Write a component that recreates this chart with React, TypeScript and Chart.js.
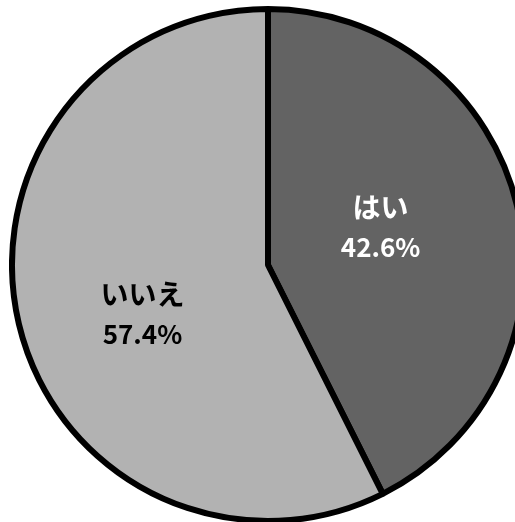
import React, { useEffect, useRef } from "react";
import { Chart, registerables } from "chart.js";

Chart.register(...registerables);

const categories = ["はい", "いいえ"];
const values = [42.6, 57.4];
const percentLabels = ["42.6%", "57.4%"];
const sliceColors = ["#636363", "#b2b2b2"];
const textColors = ["#ffffff", "#000000"];

const labelPlugin = {
  id: "pieLabels",
  afterDatasetsDraw(chart: any) {
    const ctx = chart.ctx;
    const meta = chart.getDatasetMeta(0);
    const offsets = [
      { dx: -12, dy: -8 },
      { dx: -1, dy: 20 },
    ];
    meta.data.forEach((arc: any, i: number) => {
      const { x, y, startAngle, endAngle, outerRadius } = arc.getProps(
        ["x", "y", "startAngle", "endAngle", "outerRadius"],
        true
      );
      const mid = (startAngle + endAngle) / 2;
      const r = outerRadius * 0.5;
      const cx = x + Math.cos(mid) * r + offsets[i].dx;
      const cy = y + Math.sin(mid) * r + offsets[i].dy;
      ctx.save();
      ctx.fillStyle = textColors[i];
      ctx.textAlign = "center";
      ctx.textBaseline = "middle";
      ctx.font = "bold 28px 'Noto Sans CJK JP'";
      ctx.fillText(categories[i], cx, cy - 20);
      ctx.font = "bold 26px 'Noto Sans CJK JP'";
      ctx.fillText(percentLabels[i], cx, cy + 20);
      ctx.restore();
    });
  },
};

export default function App() {
  const ref = useRef<HTMLCanvasElement>(null);
  useEffect(() => {
    if (!ref.current) return;
    const chart = new Chart(ref.current, {
      type: "pie",
      data: {
        labels: categories,
        datasets: [
          {
            data: values,
            backgroundColor: sliceColors,
            borderColor: "#000000",
            borderWidth: 6,
          },
        ],
      },
      options: {
        animation: false,
        responsive: false,
        events: [],
        plugins: {
          legend: { display: false },
          tooltip: { enabled: false },
        },
      },
      plugins: [labelPlugin],
    });
    return () => chart.destroy();
  }, []);
  return (
    <div style={{ position: "fixed", left: 0, top: 0, width: 515, height: 522, overflow: "hidden", background: "#fff" }}>
      <div style={{ position: "absolute", left: 9, top: 6, width: 518, height: 518 }}>
        <canvas ref={ref} width={518} height={518} style={{ width: 518, height: 518, display: "block" }} />
      </div>
    </div>
  );
}
